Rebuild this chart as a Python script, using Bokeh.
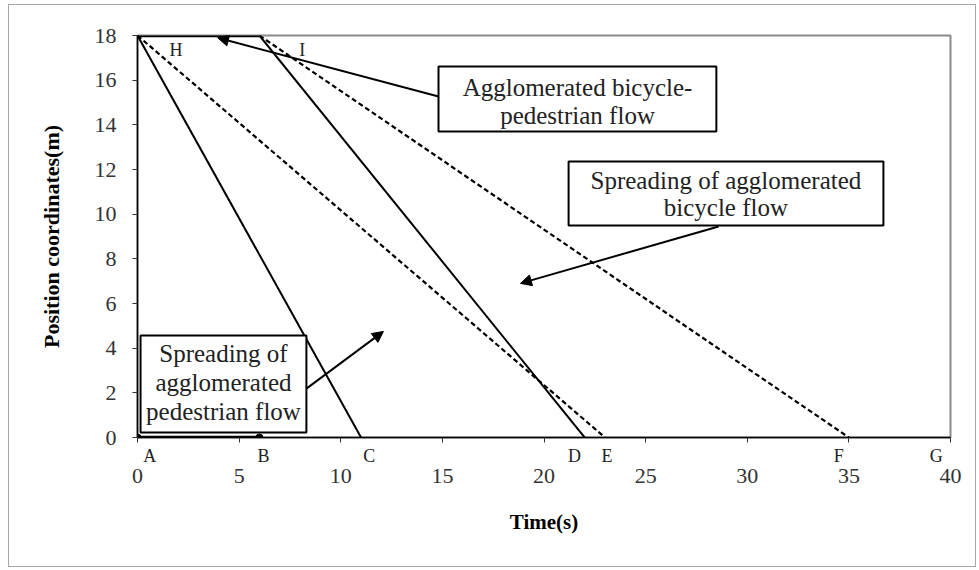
from bokeh.plotting import figure
from bokeh.models import Label, BoxAnnotation, Arrow, NormalHead, FixedTicker, Range1d, LinearAxis
from bokeh.embed import file_html
from bokeh.resources import INLINE

# ---- data ----
ped_front_x = [0, 11]          # A -> C (solid)
ped_front_y = [18, 0]
bike_front_x = [6, 22]         # I -> D (solid)
bike_front_y = [18, 0]
ped_rear_x = [0, 23]           # H -> E (dashed)
ped_rear_y = [18, 0]
bike_rear_x = [6, 35]          # I -> F (dashed)
bike_rear_y = [18, 0]
top_flow_x = [0, 6]            # agglomerated flow at 18 m
top_flow_y = [18, 18]
start_x = [0, 6]               # A -> B at 0 m
start_y = [0, 0]

x_ticks = [0, 5, 10, 15, 20, 25, 30, 35, 40]
y_ticks = [0, 2, 4, 6, 8, 10, 12, 14, 16, 18]

point_names = ["A", "B", "C", "D", "E", "F", "G"]
point_x = [0.6, 6.2, 11.4, 21.5, 23.1, 34.5, 39.3]
upper_names = ["H", "I"]
upper_x = [1.9, 8.1]

box1_lines = ["Agglomerated bicycle-", "pedestrian flow"]
box2_lines = ["Spreading of agglomerated", "bicycle flow"]
box3_lines = ["Spreading of", "agglomerated", "pedestrian flow"]

SERIF = "Liberation Serif"

p = figure(width=968, height=563, output_backend="svg", toolbar_location=None,
           x_range=Range1d(0, 40), y_range=Range1d(0, 18), x_axis_location=None,
           min_border_left=128, min_border_right=27, min_border_top=30, min_border_bottom=131)
p.styles = {"margin-left": "8px", "margin-top": "4px", "border": "1px solid #a8a8a8"}
p.background_fill_color = "white"
p.border_fill_color = "white"
p.outline_line_color = "#8a8a8a"
p.outline_line_width = 2
p.xgrid.visible = False
p.ygrid.visible = False

# letters axis (closest to the frame): carries the axis line and the numeric tick marks
letter_axis = LinearAxis(ticker=FixedTicker(ticks=point_x, minor_ticks=x_ticks),
                         major_label_overrides={x: n for x, n in zip(point_x, point_names)})
letter_axis.axis_line_color = "black"
letter_axis.axis_line_width = 1.5
letter_axis.major_tick_line_color = None
letter_axis.major_tick_out = 0
letter_axis.major_tick_in = 0
letter_axis.minor_tick_line_color = "#333333"
letter_axis.minor_tick_out = 5
letter_axis.minor_tick_in = 0
letter_axis.major_label_standoff = 3
letter_axis.major_label_text_font = SERIF
letter_axis.major_label_text_font_size = "18px"
letter_axis.major_label_text_color = "#222222"
p.add_layout(letter_axis, "below")

# numeric axis below the letters
num_axis = LinearAxis(ticker=FixedTicker(ticks=x_ticks), axis_label="Time(s)")
num_axis.axis_line_color = None
num_axis.major_tick_line_color = None
num_axis.minor_tick_line_color = None
num_axis.major_tick_out = 0
num_axis.major_tick_in = 0
num_axis.major_label_standoff = 0
num_axis.major_label_text_font = SERIF
num_axis.major_label_text_font_size = "22px"
num_axis.major_label_text_color = "#333333"
num_axis.axis_label_text_font = SERIF
num_axis.axis_label_text_font_style = "bold"
num_axis.axis_label_text_font_size = "21px"
num_axis.axis_label_text_color = "black"
num_axis.axis_label_standoff = 24
p.add_layout(num_axis, "below")

ya = p.yaxis[0]
ya.ticker = FixedTicker(ticks=y_ticks)
ya.minor_tick_line_color = None
ya.major_tick_out = 5
ya.major_tick_in = 0
ya.axis_line_color = "black"
ya.axis_line_width = 1.5
ya.major_tick_line_color = "#333333"
ya.major_label_text_font = SERIF
ya.major_label_text_font_size = "22px"
ya.major_label_text_color = "#333333"
ya.major_label_standoff = 16
ya.axis_label = "Position coordinates(m)"
ya.axis_label_text_font = SERIF
ya.axis_label_text_font_style = "bold"
ya.axis_label_text_font_size = "22px"
ya.axis_label_text_color = "black"
ya.axis_label_standoff = 28

# lines
p.line(ped_front_x, ped_front_y, line_color="black", line_width=2)
p.line(bike_front_x, bike_front_y, line_color="black", line_width=2)
p.line(ped_rear_x, ped_rear_y, line_color="black", line_width=2.2, line_dash="5 3")
p.line(bike_rear_x, bike_rear_y, line_color="black", line_width=2.2, line_dash="5 3")
p.line(top_flow_x, top_flow_y, line_color="black", line_width=3.5)
p.line(start_x, start_y, line_color="black", line_width=3.5)
p.scatter(start_x, start_y, size=7, marker="circle", fill_color="black", line_color="black")

# H, I labels
for n, x in zip(upper_names, upper_x):
    p.add_layout(Label(x=x, y=17.33, text=n, text_font=SERIF, text_font_size="18px",
                       text_align="center", text_baseline="middle", text_color="#222222"))

# annotation boxes
def add_box(left, right, top, bottom, lines, cx, ys):
    p.add_layout(BoxAnnotation(left=left, right=right, top=top, bottom=bottom,
                               fill_color="white", fill_alpha=1.0,
                               line_color="black", line_width=2, line_alpha=1.0))
    for t, y in zip(lines, ys):
        p.add_layout(Label(x=cx, y=y, text=t, text_font=SERIF, text_font_size="25px",
                           text_align="center", text_baseline="middle", text_color="#222222"))

add_box(14.81, 28.48, 16.61, 13.70, box1_lines, 21.65, [15.67, 14.42])
add_box(21.21, 36.70, 12.36, 9.49, box2_lines, 28.95, [11.51, 10.30])
add_box(0.15, 8.31, 4.57, 0.22, box3_lines, 4.23, [3.76, 2.46, 1.16])

# arrows
for (x0, y0, x1, y1) in [(14.81, 15.27, 3.94, 17.9), (28.59, 9.45, 18.84, 6.9), (8.31, 2.19, 12.1, 4.75)]:
    p.add_layout(Arrow(end=NormalHead(size=11, fill_color="black", line_color="black"),
                       x_start=x0, y_start=y0, x_end=x1, y_end=y1,
                       line_color="black", line_width=2))

open("out.html", "w").write(file_html(p, INLINE))
